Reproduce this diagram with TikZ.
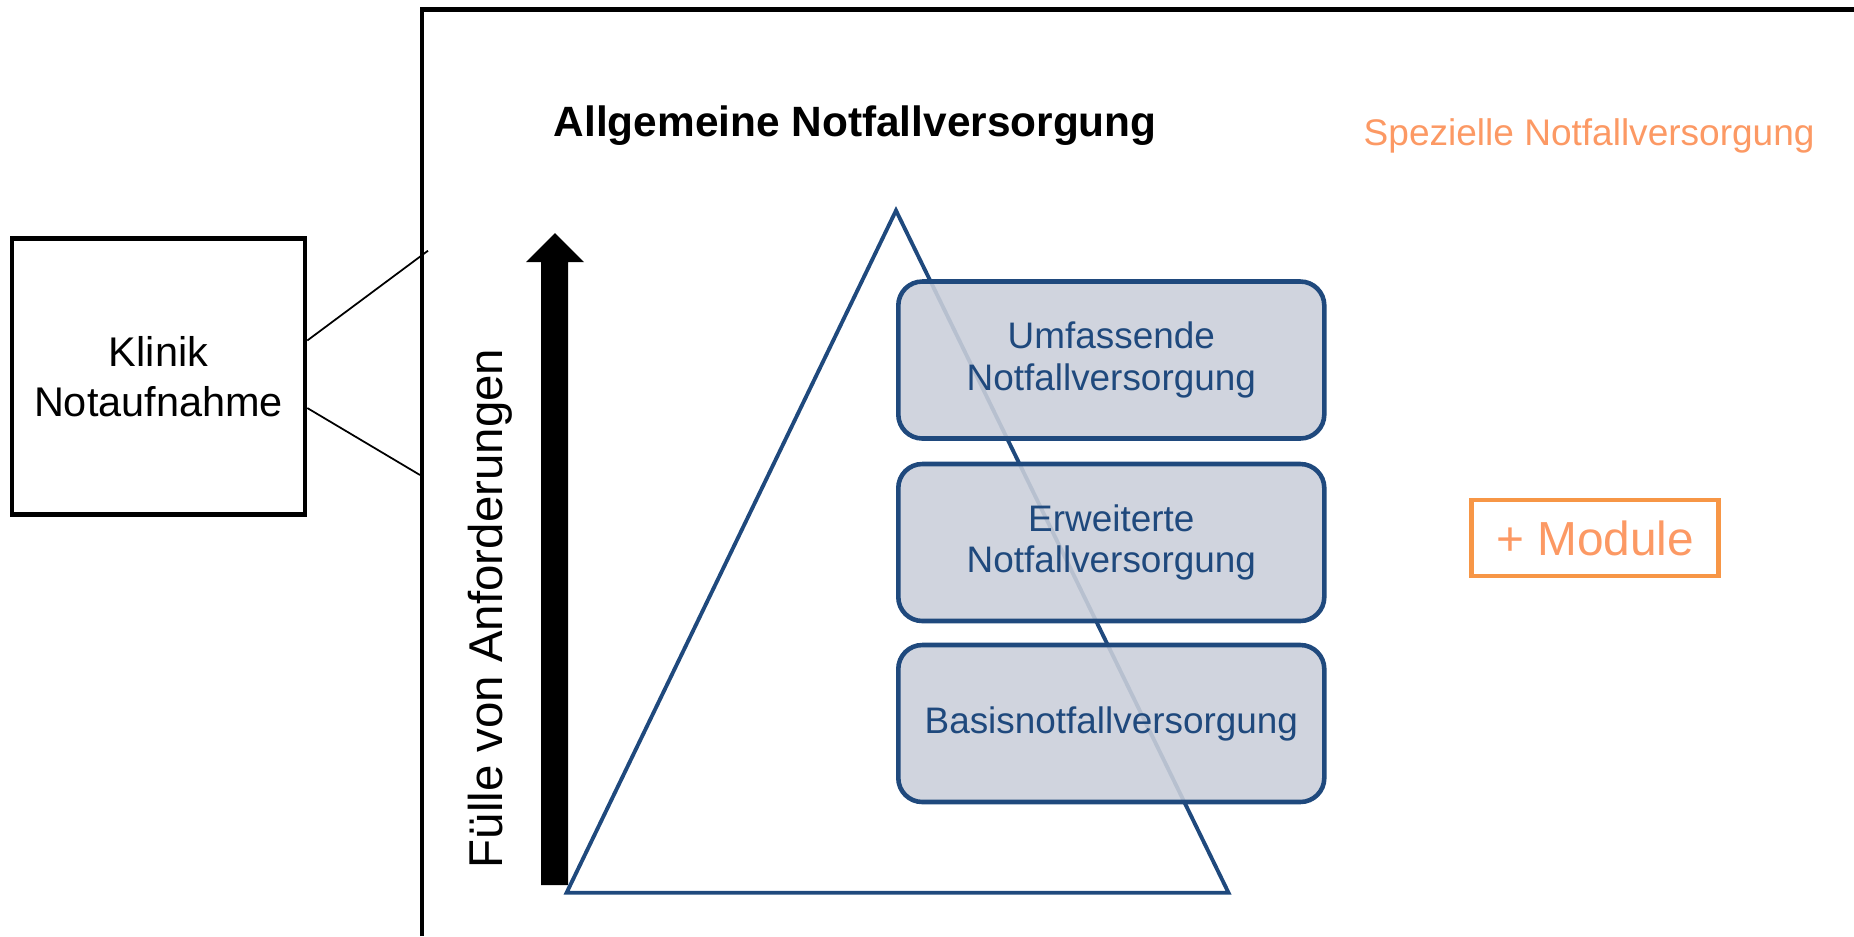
\documentclass[tikz,border=0pt]{standalone}
\usepackage{fontspec}
\setmainfont{Liberation Sans}
\definecolor{navy}{RGB}{31,73,125}
\definecolor{boxfill}{RGB}{202,207,218}
\definecolor{orangeline}{RGB}{247,150,70}
\definecolor{orangetext}{RGB}{252,153,100}
\begin{document}
\begin{tikzpicture}[x=0.1mm,y=-0.1mm,
  clinic/.style={draw, line width=1.3pt, minimum width=29.3mm, minimum height=27.6mm,
    align=center, inner sep=0, font=\fontsize{11.8}{14.3}\selectfont},
  link/.style={line width=0.5pt},
  frame/.style={line width=1.4pt},
  level/.style={draw=navy, line width=1.3pt, fill=boxfill, fill opacity=0.89, text opacity=1,
    text=navy, rounded corners=2.4mm, minimum width=42.6mm, minimum height=15.7mm,
    align=center, inner sep=0, font=\fontsize{10.5}{11.8}\selectfont},
  pyramid/.style={draw=navy, line width=1.1pt},
  module/.style={draw=orangeline, line width=1.2pt, text=orangetext, minimum width=24.7mm,
    minimum height=7.56mm, inner sep=0, font=\fontsize{13.6}{16}\selectfont},
  heading/.style={anchor=base west, inner sep=0}
]
\useasboundingbox (0,0) rectangle (1854,936);

% outer frame (left and top edges in view)
\draw[frame] (422,936) -- (422,9.5) -- (1854,9.5);

% clinic box with its two lines to the frame
\node[clinic] (klinik) at (158.5,376.5) {Klinik\\Notaufnahme};
\coordinate (fa) at (428,250.7);
\coordinate (fb) at (420,475);
\draw[link] ([yshift=3.6mm]klinik.east) -- (fa);
\draw[link] ([yshift=-3.15mm]klinik.east) -- (fb);

% headings
\node[heading, font=\bfseries\fontsize{12.06}{14}\selectfont] (general) at (553,136.8)
  {Allgemeine Notfallversorgung};
\node[heading, text=orangetext, font=\fontsize{10.54}{13}\selectfont] (special) at (1363,145.4)
  {Spezielle Notfallversorgung};

% thick upward arrow and its label
\fill (541,885) -- (541,262) -- (526,262) -- (555,233) -- (584,262) -- (568,262) -- (568,885) -- cycle;
\node[rotate=90, anchor=base west, inner sep=0, font=\fontsize{13.5}{16}\selectfont] (axislabel)
  at (502,869) {Fülle von Anforderungen};

% pyramid
\draw[pyramid] (566.6,892.7) -- (896,210.5) -- (1228.5,892.7) -- cycle;

% care levels
\node[level] (top) at (1111.3,360) {Umfassende\\Notfallversorgung};
\node[level] (mid) at (1111.3,542.5) {Erweiterte\\Notfallversorgung};
\node[level] (base) at (1111.3,723.5) {Basisnotfallversorgung};

% add-on modules
\node[module] (modules) at (1595,538) {+ Module};
\end{tikzpicture}
\end{document}
